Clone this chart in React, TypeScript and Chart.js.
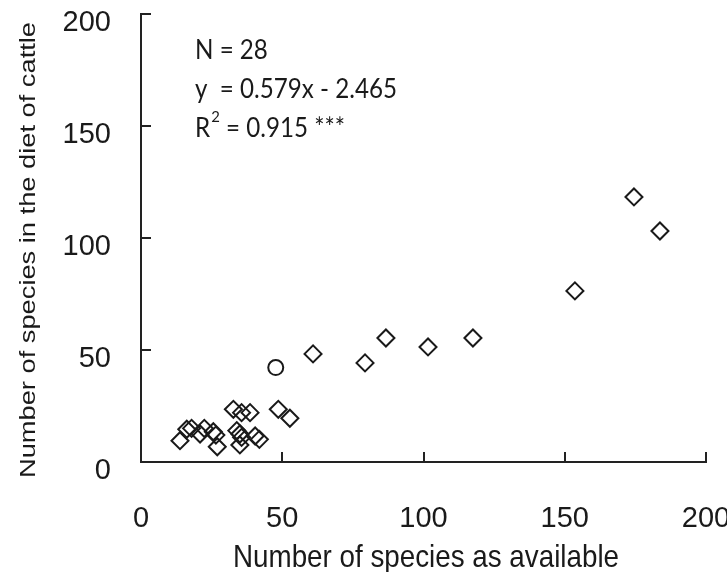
import React, { useEffect, useRef } from "react";
import { Chart, registerables } from "chart.js";

Chart.register(...registerables);

// ---- data ----
const xTickValues = [0, 50, 100, 150, 200];
const yTickValues = [0, 50, 100, 150, 200];

// diamonds
const availableX = [
  174.5, 183.7, 153.6, 117.5, 101.6, 86.7, 79.3, 60.9,
  13.8, 16.2, 17.9, 20.9, 22.4, 25.6, 26.5, 27.0, 32.7, 35.6, 38.6,
  33.9, 35.0, 35.6, 35.0, 40.4, 41.9, 48.6, 52.7,
];
const dietY = [
  118.2, 103.0, 76.3, 55.3, 51.3, 55.3, 44.2, 48.2,
  9.5, 14.6, 15.0, 12.5, 15.0, 13.5, 12.0, 6.8, 23.5, 22.0, 22.0,
  14.0, 12.5, 11.0, 7.6, 11.6, 10.1, 23.5, 19.5,
];
// circle
const circleX = [47.7];
const circleY = [42.1];

const xTitle = "Number of species as available";
const yTitle = "Number of species in the diet of cattle";
const statN = "N = 28";
const statEq = "y  = 0.579x - 2.465";
const statR = "R";
const statRSup = "2";
const statRRest = " = 0.915 ***";

const INK = "#1a1a1a";

const decorPlugin = {
  id: "decor",
  afterDraw(chart: any) {
    const ctx = chart.ctx;
    const area = chart.chartArea;
    const xs = chart.scales.x;
    const ys = chart.scales.y;
    ctx.save();
    // inward tick marks
    ctx.strokeStyle = "#222";
    ctx.lineWidth = 2;
    ctx.beginPath();
    ys.ticks.forEach((t: any) => {
      const py = Math.round(ys.getPixelForValue(t.value));
      ctx.moveTo(area.left, py);
      ctx.lineTo(area.left + 10, py);
    });
    xs.ticks.forEach((t: any) => {
      const px = Math.round(xs.getPixelForValue(t.value));
      ctx.moveTo(px, area.bottom);
      ctx.lineTo(px, area.bottom - 10);
    });
    ctx.stroke();

    ctx.fillStyle = INK;
    // x title
    ctx.font = '32px "Liberation Sans", Arial, sans-serif';
    ctx.textBaseline = "alphabetic";
    ctx.textAlign = "center";
    let w = ctx.measureText(xTitle).width;
    ctx.save();
    ctx.translate(426, 567);
    ctx.scale(386 / w, 1);
    ctx.fillText(xTitle, 0, 0);
    ctx.restore();

    // y title
    ctx.font = '22px "Liberation Sans", Arial, sans-serif';
    w = ctx.measureText(yTitle).width;
    ctx.save();
    ctx.translate(35, 250);
    ctx.rotate(-Math.PI / 2);
    ctx.scale(456 / w, 1);
    ctx.fillText(yTitle, 0, 0);
    ctx.restore();

    // annotation
    ctx.textAlign = "left";
    const ax = area.left + 54;
    ctx.font = '26px Lato, "Open Sans", sans-serif';
    const eqW = ctx.measureText(statEq).width;
    const sx = 202 / eqW;
    const drawScaled = (txt: string, x: number, y: number) => {
      ctx.save();
      ctx.translate(x, y);
      ctx.scale(sx, 1);
      ctx.fillText(txt, 0, 0);
      ctx.restore();
      return ctx.measureText(txt).width * sx;
    };
    drawScaled(statN, ax, 59);
    drawScaled(statEq, ax, 98);
    let cx = ax;
    cx += drawScaled(statR, cx, 137);
    ctx.font = '16px Lato, "Open Sans", sans-serif';
    cx += drawScaled(statRSup, cx + 1, 122) + 1;
    ctx.font = '26px Lato, "Open Sans", sans-serif';
    drawScaled(statRRest, cx, 137);
    ctx.restore();
  },
};

export default function App() {
  const canvasRef = useRef<HTMLCanvasElement | null>(null);

  useEffect(() => {
    if (!canvasRef.current) return;
    const tickFont = { family: '"Liberation Sans", Arial, sans-serif', size: 29 };
    const chart = new Chart(canvasRef.current, {
      type: "scatter",
      data: {
        datasets: [
          {
            label: "diamonds",
            data: availableX.map((x, i) => ({ x, y: dietY[i] })),
            pointStyle: "rectRot",
            pointRadius: 8.5,
            pointBorderWidth: 2,
            borderColor: INK,
            backgroundColor: "rgba(0,0,0,0)",
            pointBackgroundColor: "rgba(0,0,0,0)",
            pointBorderColor: INK,
          },
          {
            label: "circle",
            data: circleX.map((x, i) => ({ x, y: circleY[i] })),
            pointStyle: "circle",
            pointRadius: 7.5,
            pointBorderWidth: 2,
            borderColor: INK,
            backgroundColor: "rgba(0,0,0,0)",
            pointBackgroundColor: "rgba(0,0,0,0)",
            pointBorderColor: INK,
          },
        ],
      },
      options: {
        animation: false,
        responsive: false,
        devicePixelRatio: 1,
        layout: { padding: { top: 13.5, right: 21, bottom: 0, left: 0 } },
        plugins: {
          legend: { display: false },
          tooltip: { enabled: false },
        },
        scales: {
          x: {
            type: "linear",
            min: 0,
            max: 200,
            afterBuildTicks: (s: any) => {
              s.ticks = xTickValues.map((v) => ({ value: v }));
            },
            ticks: {
              font: tickFont,
              color: INK,
              padding: 40,
              autoSkip: false,
              maxRotation: 0,
            },
            grid: { display: true, drawOnChartArea: false, drawTicks: false },
            border: { display: true, color: "#222", width: 2 },
            afterFit: (s: any) => {
              s.height = 110;
              s.paddingLeft = 0;
              s.paddingRight = 0;
            },
          },
          y: {
            type: "linear",
            min: 0,
            max: 200,
            afterBuildTicks: (s: any) => {
              s.ticks = yTickValues.map((v) => ({ value: v }));
            },
            ticks: {
              font: tickFont,
              color: INK,
              padding: 30,
              labelOffset: 9,
              autoSkip: false,
            },
            grid: { display: true, drawOnChartArea: false, drawTicks: false },
            border: { display: true, color: "#222", width: 2 },
            afterFit: (s: any) => {
              s.width = 141;
              s.paddingTop = 0;
              s.paddingBottom = 0;
            },
          },
        },
      },
      plugins: [decorPlugin],
    } as any);
    return () => chart.destroy();
  }, []);

  return (
    <div style={{ position: "fixed", left: 0, top: 0, width: 727, height: 572, background: "#fff" }}>
      <canvas ref={canvasRef} width={727} height={572} style={{ display: "block", width: 727, height: 572 }} />
    </div>
  );
}
